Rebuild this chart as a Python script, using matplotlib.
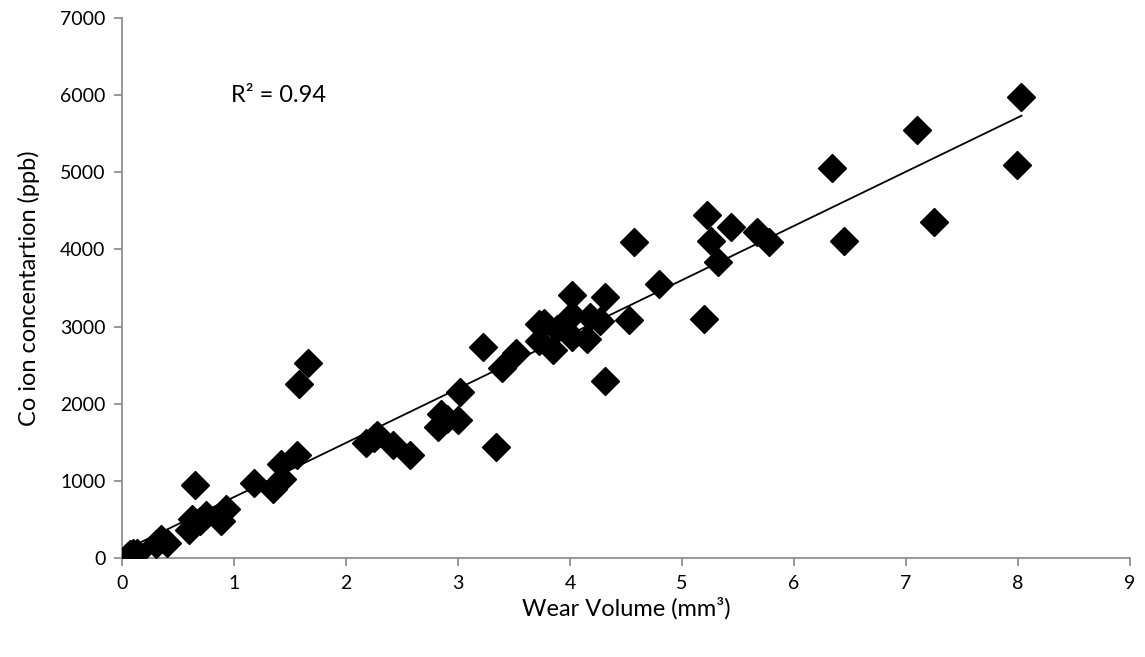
import numpy as np
import matplotlib.pyplot as plt

plt.rcParams['font.family'] = ['Lato', 'DejaVu Sans']

wear = [0.05, 0.07, 0.10, 0.13, 0.30, 0.35, 0.40, 0.60, 0.62, 0.65, 0.70, 0.75,
        0.88, 0.93, 1.18, 1.35, 1.42, 1.43, 1.56, 1.58, 1.66, 2.18, 2.25, 2.28,
        2.42, 2.57, 2.82, 2.85, 2.90, 3.00, 3.02, 3.22, 3.34, 3.39, 3.52, 3.72,
        3.72, 3.77, 3.85, 3.88, 4.02, 4.02, 4.02, 4.15, 4.18, 4.27, 4.31, 4.31,
        4.53, 4.57, 4.79, 5.20, 5.22, 5.26, 5.32, 5.44, 5.67, 5.78, 6.34, 6.45,
        7.10, 7.25, 7.99, 8.03]
co_ion = [20, 50, 70, 70, 180, 240, 200, 360, 500, 940, 480, 560,
          480, 640, 970, 900, 1220, 1020, 1340, 2260, 2530, 1490, 1560, 1600,
          1460, 1330, 1700, 1870, 1800, 1790, 2150, 2740, 1440, 2460, 2660, 3030,
          2810, 3050, 2690, 2970, 3410, 3150, 2870, 2840, 3130, 3070, 3380, 2300,
          3080, 4090, 3550, 3100, 4440, 4110, 3840, 4290, 4230, 4100, 5060, 4110,
          5550, 4350, 5090, 5980]

x = np.array(wear)
y = np.array(co_ion)
slope, intercept = np.polyfit(x, y, 1)
xf = np.array([x.min(), x.max()])

fig = plt.figure(figsize=(11.45, 6.57), dpi=100)
ax = fig.add_axes([0.1066, 0.1507, 0.8804, 0.8219])

ax.plot(xf, slope * xf + intercept, color='black', linewidth=1.3, zorder=2)
ax.plot(x, y, linestyle='none', marker='D', markersize=14, color='black', zorder=3)

ax.set_xlim(0, 9)
ax.set_ylim(0, 7000)
ax.set_xticks(range(0, 10))
ax.set_yticks(range(0, 7001, 1000))

for side in ['top', 'right']:
    ax.spines[side].set_visible(False)
for side in ['left', 'bottom']:
    ax.spines[side].set_color('#868686')
    ax.spines[side].set_linewidth(1.2)
ax.tick_params(direction='out', length=6, width=1.2, color='#868686',
               labelsize=14, pad=6)

ax.set_xlabel('Wear Volume (mm³)', fontsize=17, labelpad=4)
ax.set_ylabel('Co ion concentartion (ppb)', fontsize=17, labelpad=14)
ax.text(0.97, 6000, 'R² = 0.94', fontsize=17, va='center')

fig.savefig('out.png', dpi=100)
